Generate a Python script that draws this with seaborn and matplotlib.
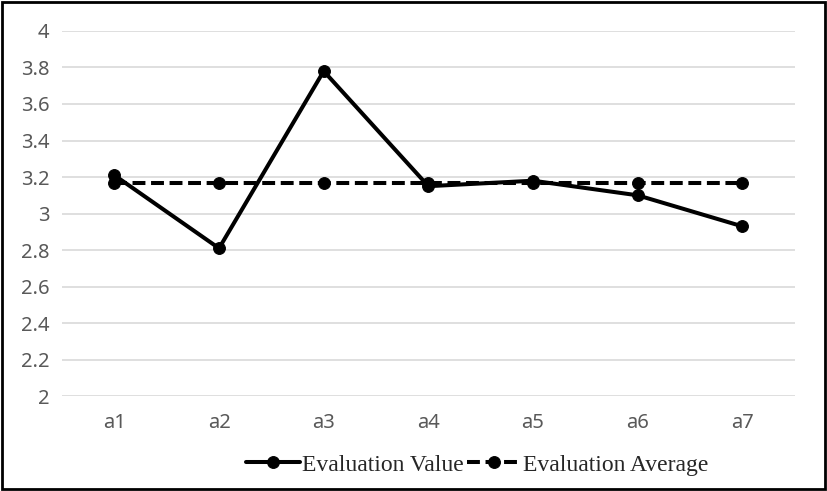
import matplotlib
matplotlib.use("Agg")
import matplotlib.pyplot as plt
import seaborn as sns
import pandas as pd
from matplotlib.patches import Rectangle

categories = ["a1", "a2", "a3", "a4", "a5", "a6", "a7"]
evaluation_value = [3.21, 2.81, 3.78, 3.15, 3.18, 3.10, 2.93]
evaluation_average = [3.165, 3.165, 3.165, 3.165, 3.165, 3.165, 3.165]
y_ticks = [2, 2.2, 2.4, 2.6, 2.8, 3, 3.2, 3.4, 3.6, 3.8, 4]
y_tick_labels = ["2", "2.2", "2.4", "2.6", "2.8", "3", "3.2", "3.4", "3.6", "3.8", "4"]

sns.set_style("white")
plt.rcParams['font.family'] = ['Noto Sans', 'DejaVu Sans']

df = pd.DataFrame({"cat": categories, "val": evaluation_value, "avg": evaluation_average})
df["x"] = range(len(categories))

fig = plt.figure(figsize=(8.27, 4.91), dpi=100)
ax = fig.add_axes([0.075, 0.193, 0.886, 0.744])

sns.lineplot(data=df, x="x", y="val", ax=ax, color="black", linewidth=2.9,
             marker="o", markersize=8.5, markeredgecolor="black", zorder=4)
sns.lineplot(data=df, x="x", y="avg", ax=ax, color="black", linewidth=2.9,
             marker="o", markersize=8.5, markeredgecolor="black", zorder=3)
line_val, line_avg = ax.lines[0], ax.lines[1]
line_avg.set_dashes([3.2, 1.4])
line_val.set_label("Evaluation Value")
line_avg.set_label("Evaluation Average")

ax.set_xlim(-0.5, len(categories) - 0.5)
ax.set_ylim(2, 4)
ax.set_xticks(range(len(categories)))
ax.set_xticklabels(categories)
ax.set_yticks(y_ticks)
ax.set_yticklabels(y_tick_labels)
ax.set_xlabel("")
ax.set_ylabel("")
ax.grid(axis="y", color="#d9d9d9", linewidth=1.2)
ax.set_axisbelow(True)
for s in ax.spines.values():
    s.set_visible(False)
ax.tick_params(axis="both", length=0, labelsize=14.5, labelcolor="#595959")
ax.tick_params(axis="x", pad=12)
ax.tick_params(axis="y", pad=9)

leg = fig.legend([line_val, line_avg], ["Evaluation Value", "Evaluation Average"],
                 loc="center", bbox_to_anchor=(0.577, 0.053), ncol=2,
                 frameon=False, handlelength=2.3, handletextpad=0.1, columnspacing=0.1,
                 prop={"family": "Liberation Serif", "size": 17})

fig.patches.append(Rectangle((0.003, 0.004), 0.994, 0.992, transform=fig.transFigure,
                             fill=False, edgecolor="black", linewidth=2))

fig.savefig("out.png", dpi=100)
